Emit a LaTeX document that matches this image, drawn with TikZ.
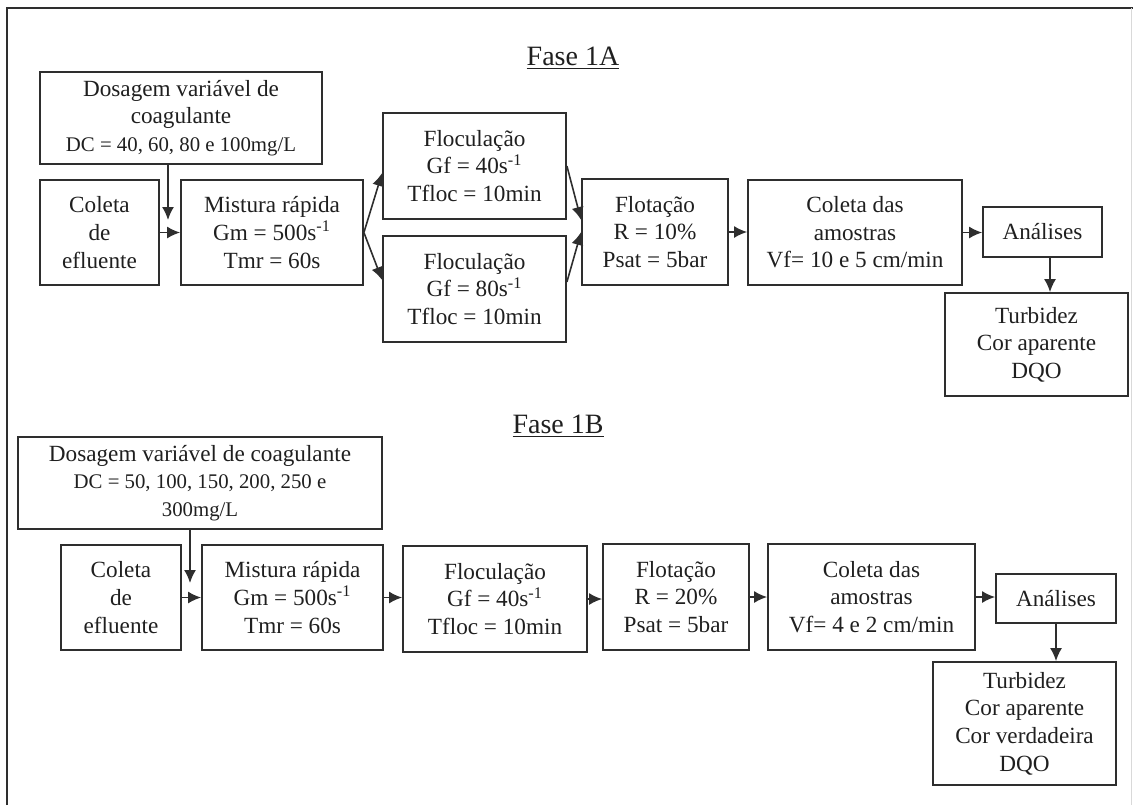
\documentclass[tikz,border=0pt]{standalone}
\usepackage{fontspec}
\setmainfont{Liberation Serif}
\usepackage{xcolor}
\usepackage{tikz}
\usetikzlibrary{arrows.meta}
\definecolor{inkgray}{HTML}{1F1F1F}
\definecolor{linegray}{HTML}{2E2E2E}
\newcommand{\dcsize}{\fontsize{10.4}{13.8}\selectfont}
\tikzstyle{box}=[draw=linegray, line width=0.9pt, shape=rectangle, align=center, inner sep=0pt, text=inkgray, font=\fontsize{11.6}{13.8}\selectfont]
\tikzstyle{title}=[text=inkgray, inner sep=0pt, font=\fontsize{14}{16}\selectfont]
\tikzstyle{flow}=[draw=linegray, line width=0.8pt, -{Latex[length=6.5pt,width=6pt]}]
\pgfdeclarelayer{nodelayer}
\pgfdeclarelayer{edgelayer}
\pgfsetlayers{nodelayer,edgelayer}

\begin{document}
\begin{tikzpicture}[x=0.5pt, y=-0.5pt]
	\useasboundingbox (0,0) rectangle (1133,805);
	\begin{pgfonlayer}{nodelayer}
		% frame
		\draw[linegray, line width=1.1pt] (7,805) -- (7,8) -- (1133,8);
		\draw[black!15, line width=0.6pt] (1131.5,8) -- (1131.5,805);
		% Fase 1A
		\node [style=title] (faseA) at (573,58) {\underline{Fase 1A}};
		\node [style=box, minimum width=141pt, minimum height=46pt] (dosA) at (181,118) {Dosagem variável de\\coagulante\\{\dcsize DC = 40, 60, 80 e 100mg/L}};
		\node [style=box, minimum width=59.5pt, minimum height=52.5pt] (colA) at (99.5,232.5) {Coleta\\de\\efluente};
		\node [style=box, minimum width=91pt, minimum height=52.5pt] (misA) at (272,232.5) {Mistura rápida\\Gm = 500s\textsuperscript{-1}\\Tmr = 60s};
		\node [style=box, minimum width=91.5pt, minimum height=53pt] (flocA1) at (474.5,166) {Floculação\\Gf = 40s\textsuperscript{-1}\\Tfloc = 10min};
		\node [style=box, minimum width=91.5pt, minimum height=53pt] (flocA2) at (474.5,289) {Floculação\\Gf = 80s\textsuperscript{-1}\\Tfloc = 10min};
		\node [style=box, minimum width=73pt, minimum height=53pt] (flotA) at (655,232) {Flotação\\R = 10\%\\Psat = 5bar};
		\node [style=box, minimum width=107pt, minimum height=52.5pt] (amoA) at (855,232.5) {Coleta das\\amostras\\Vf= 10 e 5 cm/min};
		\node [style=box, minimum width=59.5pt, minimum height=25pt] (anaA) at (1042.5,232) {Análises};
		\node [style=box, minimum width=91.5pt, minimum height=51.5pt] (turA) at (1036.5,344.5) {Turbidez\\Cor aparente\\DQO};
		\coordinate (inA) at (168,220);
		% Fase 1B
		\node [style=title] (faseB) at (558,426) {\underline{Fase 1B}};
		\node [style=box, minimum width=182pt, minimum height=46pt] (dosB) at (200,483) {Dosagem variável de coagulante\\{\dcsize DC = 50, 100, 150, 200, 250 e}\\{\dcsize 300mg/L}};
		\node [style=box, minimum width=60pt, minimum height=52.5pt] (colB) at (121,597.5) {Coleta\\de\\efluente};
		\node [style=box, minimum width=90.5pt, minimum height=52.5pt] (misB) at (292.5,597.5) {Mistura rápida\\Gm = 500s\textsuperscript{-1}\\Tmr = 60s};
		\node [style=box, minimum width=92pt, minimum height=53pt] (flocB) at (495,599) {Floculação\\Gf = 40s\textsuperscript{-1}\\Tfloc = 10min};
		\node [style=box, minimum width=73pt, minimum height=53pt] (flotB) at (676,597) {Flotação\\R = 20\%\\Psat = 5bar};
		\node [style=box, minimum width=103.5pt, minimum height=53pt] (amoB) at (871.5,597) {Coleta das\\amostras\\Vf= 4 e 2 cm/min};
		\node [style=box, minimum width=60pt, minimum height=24.5pt] (anaB) at (1056,598.5) {Análises};
		\node [style=box, minimum width=91.5pt, minimum height=61.5pt] (turB) at (1024.5,723.5) {Turbidez\\Cor aparente\\Cor verdadeira\\DQO};
		\coordinate (inB) at (190,583);
	\end{pgfonlayer}
	\begin{pgfonlayer}{edgelayer}
		\draw [style=flow] (inA |- dosA.south) to (inA);
		\draw [style=flow] (colA.east) to (colA.east -| misA.west);
		\draw [style=flow] (misA.east) to ([yshift=-3.5pt]flocA1.west);
		\draw [style=flow] (misA.east) to ([yshift=4.5pt]flocA2.west);
		\draw [style=flow] (flocA1.east) to ([yshift=6pt]flotA.west);
		\draw [style=flow] ([yshift=3.5pt]flocA2.east) to (flotA.west);
		\draw [style=flow] (flotA.east) to (flotA.east -| amoA.west);
		\draw [style=flow] (amoA.east) to (amoA.east -| anaA.west);
		\draw [style=flow] ([xshift=3.75pt]anaA.south) to ([xshift=3.75pt]anaA.south |- turA.north);
		\draw [style=flow] (inB |- dosB.south) to (inB);
		\draw [style=flow] (colB.east) to (colB.east -| misB.west);
		\draw [style=flow] (misB.east) to (misB.east -| flocB.west);
		\draw [style=flow] (flocB.east) to (flocB.east -| flotB.west);
		\draw [style=flow] (flotB.east) to (flotB.east -| amoB.west);
		\draw [style=flow] (amoB.east) to (amoB.east -| anaB.west);
		\draw [style=flow] (anaB.south) to (anaB.south |- turB.north);
	\end{pgfonlayer}
\end{tikzpicture}
\end{document}
